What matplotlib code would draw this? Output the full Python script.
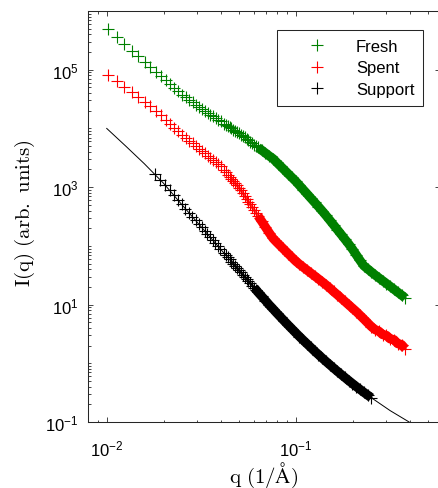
import matplotlib
matplotlib.use('Agg')
import matplotlib.pyplot as plt
import numpy as np
from matplotlib.ticker import FixedLocator, LogLocator, NullFormatter

plt.rcParams['font.family'] = ['Liberation Sans', 'DejaVu Sans']
plt.rcParams['mathtext.fontset'] = 'custom'
plt.rcParams['mathtext.rm'] = 'Liberation Sans'
plt.rcParams['mathtext.it'] = 'Liberation Sans:italic'
plt.rcParams['mathtext.bf'] = 'Liberation Sans:bold'

# q grid (1/A) shared by the Fresh and Spent curves
q_fs = [0.0101, 0.0113, 0.0124, 0.0136, 0.0147, 0.0159, 0.0170, 0.0182, 0.0193,
        0.0205, 0.0216, 0.0228, 0.0239, 0.0251, 0.0262, 0.0274, 0.0285, 0.0297,
        0.0308, 0.0320, 0.0331, 0.0343, 0.0354, 0.0366, 0.0377, 0.0389, 0.0400,
        0.0417, 0.0427, 0.0437, 0.0447, 0.0457, 0.0468, 0.0479, 0.0490, 0.0501,
        0.0513, 0.0525, 0.0537, 0.0550, 0.0562, 0.0575, 0.0589, 0.0603, 0.0617,
        0.0631, 0.0661, 0.0692, 0.0724, 0.0759, 0.0794, 0.0832, 0.0871, 0.0912,
        0.0955, 0.1000, 0.1047, 0.1096, 0.1148, 0.1202, 0.1259, 0.1318, 0.1380,
        0.1445, 0.1514, 0.1585, 0.1660, 0.1738, 0.1820, 0.1905, 0.1995, 0.2089,
        0.2188, 0.2291, 0.2399, 0.2512, 0.2630, 0.2754, 0.2884, 0.3020, 0.3162,
        0.3311, 0.3467, 0.3631, 0.3802]

fresh = [4.88e5, 3.55e5, 2.73e5, 2.11e5, 1.69e5, 1.36e5, 1.12e5, 9.27e4, 7.85e4,
         6.62e4, 5.71e4, 4.91e4, 4.30e4, 3.74e4, 3.37e4, 3.05e4, 2.80e4, 2.55e4,
         2.35e4, 2.16e4, 2.00e4, 1.85e4, 1.72e4, 1.60e4, 1.50e4, 1.40e4, 1.32e4,
         1.21e4, 1.15e4, 1.10e4, 1.05e4, 1.00e4, 9.53e3, 9.08e3, 8.65e3, 8.24e3,
         7.82e3, 7.41e3, 7.01e3, 6.62e3, 6.27e3, 5.93e3, 5.61e3, 5.31e3, 5.02e3,
         4.75e3, 4.25e3, 3.80e3, 3.40e3, 3.05e3, 2.63e3, 2.27e3, 1.96e3, 1.69e3,
         1.46e3, 1.26e3, 1.07e3, 908, 769, 650, 551, 467, 394,
         330, 274, 228, 189, 157, 130, 108, 88.1, 70.6,
         56.6, 45.9, 40.6, 35.9, 31.9, 28.5, 25.5, 22.8, 20.4,
         18.2, 16.2, 14.5, 12.9]

spent = [8.26e4, 6.34e4, 5.09e4, 4.10e4, 3.41e4, 2.84e4, 2.42e4, 1.99e4, 1.67e4,
         1.41e4, 1.21e4, 1.03e4, 9.01e3, 7.82e3, 6.97e3, 6.19e3, 5.58e3, 5.01e3,
         4.55e3, 4.12e3, 3.77e3, 3.43e3, 3.16e3, 2.90e3, 2.68e3, 2.47e3, 2.28e3,
         1.95e3, 1.79e3, 1.64e3, 1.50e3, 1.38e3, 1.27e3, 1.16e3, 1.07e3, 980,
         881, 793, 710, 635, 568, 508, 454, 407, 364,
         326, 261, 208, 167, 134, 115, 99.1, 85.5, 73.8,
         63.7, 55.0, 48.6, 43.3, 38.6, 34.4, 30.7, 27.4, 24.4,
         21.7, 19.1, 16.7, 14.7, 12.9, 11.3, 9.91, 8.69, 7.62,
         6.59, 5.69, 4.90, 4.22, 3.74, 3.52, 3.08, 2.98, 2.60,
         2.52, 2.16, 2.08, 1.76]

q_sup = [0.0180, 0.0192, 0.0203, 0.0215, 0.0226, 0.0238, 0.0249, 0.0261, 0.0272,
         0.0284, 0.0295, 0.0307, 0.0318, 0.0330, 0.0341, 0.0353, 0.0364, 0.0376,
         0.0387, 0.0399, 0.0417, 0.0427, 0.0437, 0.0447, 0.0457, 0.0468, 0.0479,
         0.0490, 0.0501, 0.0513, 0.0525, 0.0537, 0.0550, 0.0562, 0.0575, 0.0589,
         0.0603, 0.0617, 0.0631, 0.0661, 0.0692, 0.0724, 0.0759, 0.0794, 0.0832,
         0.0871, 0.0912, 0.0955, 0.1000, 0.1047, 0.1096, 0.1148, 0.1202, 0.1259,
         0.1318, 0.1380, 0.1445, 0.1514, 0.1585, 0.1660, 0.1738, 0.1820, 0.1905,
         0.1995, 0.2089, 0.2188, 0.2291, 0.2399, 0.2512]

support = [1.69e3, 1.33e3, 1.08e3, 877, 729, 602, 509, 428, 367,
           313, 272, 235, 206, 180, 159, 140, 125, 111,
           99.8, 89.0, 75.7, 69.5, 63.8, 58.6, 53.8, 49.4, 45.4,
           41.7, 38.3, 35.2, 32.3, 29.6, 27.2, 25.0, 23.0, 21.1,
           19.4, 17.8, 16.3, 13.8, 11.7, 9.89, 8.41, 7.16, 6.11,
           5.22, 4.48, 3.85, 3.31, 2.85, 2.47, 2.14, 1.86, 1.61,
           1.41, 1.23, 1.077, 0.945, 0.831, 0.732, 0.647, 0.573, 0.508,
           0.452, 0.402, 0.359, 0.321, 0.288, 0.259]

# fit line through the support data
q_fit = [0.0100, 0.0126, 0.0158, 0.0200, 0.0251, 0.0316, 0.0398, 0.0501, 0.0631,
         0.0794, 0.1000, 0.1259, 0.1585, 0.1995, 0.2512, 0.3162, 0.3981]
support_fit = [1.00e4, 5.01e3, 2.51e3, 1.16e3, 494, 211, 89.7, 38.3, 16.3,
               7.16, 3.31, 1.61, 0.832, 0.452, 0.259, 0.156, 0.100]

AXC = '#262626'

fig = plt.figure(figsize=(4.38, 4.89), dpi=100)
ax = fig.add_axes([88/438, 66/489, 352/438, 411/489])
ax.set_xscale('log')
ax.set_yscale('log')

mk = dict(linestyle='none', marker='+', ms=8, mew=0.8)


def draw(q, y, color, label, qband):
    q = np.asarray(q)
    y = np.asarray(y)
    ax.plot(q, y, color=color, label=label, **mk)
    # markers start to crowd together: thin core line
    mid = q >= 0.045
    ax.plot(q[mid], y[mid], '-', color=color, lw=2.2, alpha=0.8,
            solid_capstyle='round')
    # markers pile up into a solid band
    sel = q >= qband
    ax.plot(q[sel], y[sel], '-', color=color, lw=6.6, solid_capstyle='butt',
            solid_joinstyle='round')


draw(q_fs, fresh, '#008000', 'Fresh', 0.062)
draw(q_fs, spent, '#ff0000', 'Spent', 0.063)
draw(q_sup, support, 'k', 'Support', 0.059)
ax.plot(q_fit, support_fit, '-', color='k', lw=0.7)

ax.set_xlim(0.00796, 0.58)
ax.set_ylim(1e-1, 1e6)

ax.xaxis.set_major_locator(FixedLocator([1e-2, 1e-1]))
ax.xaxis.set_minor_locator(LogLocator(base=10, subs=range(1, 10), numticks=50))
ax.yaxis.set_major_locator(FixedLocator([1e-1, 1e1, 1e3, 1e5]))
ax.yaxis.set_minor_locator(LogLocator(base=10, subs=range(1, 10), numticks=50))
ax.xaxis.set_minor_formatter(NullFormatter())
ax.yaxis.set_minor_formatter(NullFormatter())

for s in ax.spines.values():
    s.set_color(AXC)
    s.set_linewidth(0.75)
ax.tick_params(which='both', direction='in', top=True, right=True,
               color=AXC, width=0.6, labelsize=12, labelcolor='k')
ax.tick_params(which='major', length=3.3)
ax.tick_params(which='minor', length=1.8)
ax.tick_params(axis='x', pad=12)
ax.tick_params(axis='y', pad=7)

ax.set_xlabel(r'$\mathrm{q\ (1/\AA)}$', fontsize=15, math_fontfamily='cm')
ax.set_ylabel(r'$\mathrm{I(q)\ (arb.\ units)}$', fontsize=15, math_fontfamily='cm')
ax.xaxis.set_label_coords(0.5, -0.093)
ax.yaxis.set_label_coords(-0.145, 0.51)

leg = ax.legend(loc='upper left', bbox_to_anchor=(276.7/438, 1 - 31.3/489),
                bbox_transform=fig.transFigure, borderaxespad=0, fontsize=12,
                frameon=True, fancybox=False, framealpha=1, numpoints=1,
                borderpad=0.5, labelspacing=0.41, handlelength=3.8,
                handletextpad=0.45)
leg.get_frame().set_edgecolor(AXC)
leg.get_frame().set_linewidth(0.75)

fig.savefig('out.png', dpi=100)
